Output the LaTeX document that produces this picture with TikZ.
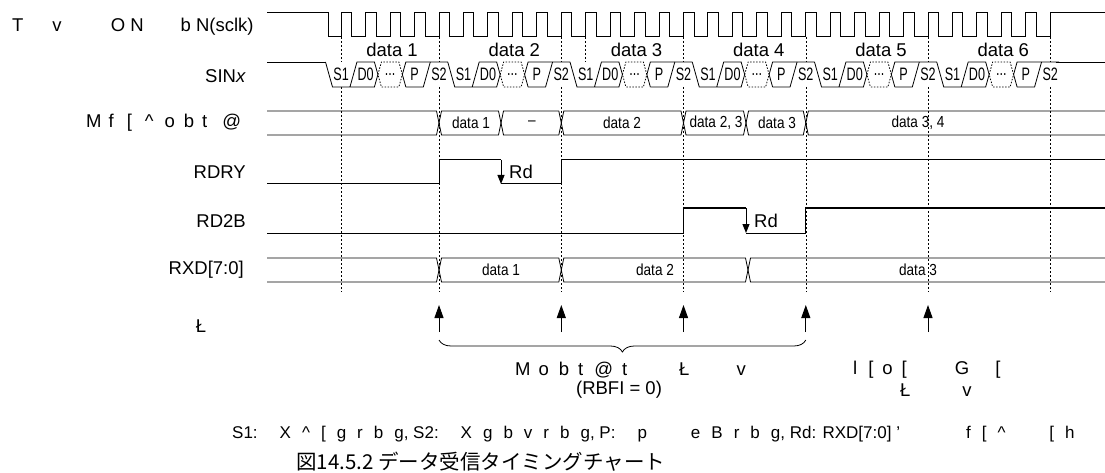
\documentclass[tikz,border=0pt]{standalone}
\usepackage{fontspec}
\setmainfont{Liberation Sans}
\newfontfamily\cjkfont{Noto Sans CJK JP}
\usetikzlibrary{arrows.meta,decorations.pathreplacing}

\newcommand{\g}[1]{\hspace{#1pt}}
\newcommand{\G}{\hspace{11pt}}

\tikzset{
  sig/.style={line width=1pt},
  busln/.style={line width=0.8pt},
  gridln/.style={line width=0.6pt,dash pattern=on 2pt off 2pt},
  dotln/.style={line width=0.8pt,dash pattern=on 1.5pt off 1.5pt},
  lbl/.style={font=\fontsize{18.5}{22}\selectfont,inner sep=0pt},
  siglbl/.style={lbl,anchor=east},
  note/.style={font=\fontsize{17}{20}\selectfont,inner sep=0pt},
  buslbl/.style={font=\fontsize{16}{18}\selectfont,inner sep=0pt,xscale=0.85},
  celllbl/.style={font=\fontsize{18}{20}\selectfont,inner sep=0pt,xscale=0.7},
  rdarrow/.style={line width=1pt,-{Triangle[length=9pt,width=7pt]}},
  latch/.style={line width=1pt,-{Triangle[length=13pt,width=9pt]}},
}

\begin{document}
\begin{tikzpicture}[x=1pt,y=-1pt]
  \useasboundingbox (0,0) rectangle (1105,473);

  % signal names
  \node[lbl,anchor=west] (nclk) at (12,27) {T\g{29}v\g{49}O N\g{37}b N(sclk)};
  \node[siglbl] (nsin) at (246,76) {SIN\textit{x}};
  \node[lbl,anchor=west] (nbuf) at (86,123) {M\g{7}f\g{13}[\g{13}\textasciicircum\g{11}o\g{9}b\g{8}t\g{15}@};
  \node[siglbl] (nrdry) at (246,172) {RDRY};
  \node[siglbl] (nrd2b) at (246,221) {RD2B};
  \node[siglbl] (nrxd) at (244,270) {RXD[7:0]};
  \node[lbl] (nlatch) at (201,326) {Ł};

  % dashed guides
  \foreach \x in {341.2,439,561.3,683.5,805.8,928,1050.3}
    \draw[gridln] (\x,37) -- (\x,62) (\x,87) -- (\x,292);
  \draw[gridln] (585.7,37) -- (585.7,62);

  % sclk
  \draw[sig] (267,13) -- (328,13) -- (328,37) -- (341.2,37)
    \foreach \i in {1,...,29} { -- ++(0,-24) -- ++(10.5,0) -- ++(0,24) -- ++(13.95,0) }
    -- ++(0,-24) -- (1105,13);

  % SINx frames
  \draw[busln] (267,62) -- (325.5,62);
  \foreach \k in {0,...,5} {
    \pgfmathsetmacro{\o}{329+122.25*\k}
    \begin{scope}[shift={(\o,0)}]
      \draw[busln] (-3.5,62) -- (3.5,87) -- (45.4,87) -- (48.9,74.5) -- (45.4,62) -- (27.95,62) -- (20.95,87);
      \draw[dotln] (48.9,74.5) -- (52.4,62) -- (69.85,62) -- (73.35,74.5) -- (69.85,87) -- (52.4,87) -- cycle;
      \draw[busln] (76.85,87) -- (73.35,74.5) -- (76.85,62) -- (118.75,62);
      \draw[busln] (76.85,87) -- (94.3,87) -- (101.3,62);
      \node[celllbl] (s1\k) at (12.2,74.5) {S1};
      \node[celllbl] (d0\k) at (36.7,74.5) {D0};
      \node[celllbl] (dt\k) at (61.1,74.5) {...};
      \node[celllbl] (p\k) at (85.6,74.5) {P};
      \node[celllbl] (s2\k) at (110,74.5) {S2};
      \node[lbl] (fr\k) at (63,50) {data \the\numexpr\k+1\relax};
    \end{scope}
  }
  \draw[busln] (1055.5,62) -- (1105,62);

  % receive buffer bus
  \draw[busln] (267,111) -- (436.5,111) -- (439,123) -- (436.5,135) -- (267,135);
  \foreach \a/\b in {439/501,501/561.3,561.3/683.5,683.5/746,746/805.8}
    \draw[busln] (\a,123) -- ++(2.5,-12) -- (\b-2.5,111) -- (\b,123) -- (\b-2.5,135) -- (\a+2.5,135) -- cycle;
  \draw[busln] (1105,111) -- (808.3,111) -- (805.8,123) -- (808.3,135) -- (1105,135);
  \node[buslbl] (b1) at (471,123) {data 1};
  \node[buslbl] (b2) at (532,123) {–};
  \node[buslbl] (b3) at (622,123) {data 2};
  \node[buslbl] (b4) at (716,123) {data 2, 3};
  \node[buslbl] (b5) at (777,123) {data 3};
  \node[buslbl] (b6) at (918,123) {data 3, 4};

  % RDRY
  \draw[sig] (267,184) -- (439,184) -- (439,160) -- (501,160);
  \draw[rdarrow] (501,160) -- (501,184);
  \draw[sig] (501,184) -- (561.3,184) -- (561.3,160) -- (1105,160);
  \node[lbl,anchor=west] (rd1) at (509,172) {Rd};

  % RD2B
  \draw[sig] (267,233) -- (683.5,233) -- (683.5,208) -- (746,208);
  \draw[rdarrow] (746,208) -- (746,233);
  \draw[sig] (746,233) -- (805.8,233) -- (805.8,208) -- (1105,208);
  \node[lbl,anchor=west] (rd2) at (754,221) {Rd};

  % RXD[7:0]
  \draw[busln] (267,258) -- (436.5,258) -- (439,270) -- (436.5,282) -- (267,282);
  \foreach \a/\b in {439/561.3,561.3/748}
    \draw[busln] (\a,270) -- ++(2.5,-12) -- (\b-2.5,258) -- (\b,270) -- (\b-2.5,282) -- (\a+2.5,282) -- cycle;
  \draw[busln] (1105,258) -- (750.5,258) -- (748,270) -- (750.5,282) -- (1105,282);
  \node[buslbl] (r1) at (501,270) {data 1};
  \node[buslbl] (r2) at (655,270) {data 2};
  \node[buslbl] (r3) at (918,270) {data 3};

  % latch points
  \foreach \x in {439,561.3,683.5,805.8,928}
    \draw[latch] (\x,332) -- (\x,305);
  \draw[line width=0.8pt,decorate,decoration={brace,mirror,amplitude=12pt}]
    (439,340) -- (805.8,340);

  % notes
  \node[lbl,anchor=west] (n1) at (515,370) {M\g{8}o\g{10}b\g{9}t\g{11}@\g{9}t\g{52}Ł\g{47}v};
  \node[lbl] (n2) at (619,390) {(RBFI = 0)};
  \node[lbl,anchor=west] (n3) at (853,370) {l\g{11}[\g{9}o\g{9}[\g{48}G\g{26}[};
  \node[lbl,anchor=west] (n4) at (900,390) {Ł\g{52}v};
  \node[note,anchor=west] (n5) at (232,434) {S1:\G\G X\G\textasciicircum\G[\G g\G r\G b\G g, S2:\G\G X\G g\G b\G v\G r\G b\G g, P:\G\G p\G\G\G\G e\G B\G r\G b\G g, Rd: RXD[7:0] '\G\G\G\G\G\G f\G[\G\textasciicircum\G\G\G\G[\G h};
  \node[font=\cjkfont\fontsize{20.5}{24}\selectfont,inner sep=0pt,anchor=west] (cap) at (296,462) {図14.5.2 データ受信タイミングチャート};
\end{tikzpicture}
\end{document}
